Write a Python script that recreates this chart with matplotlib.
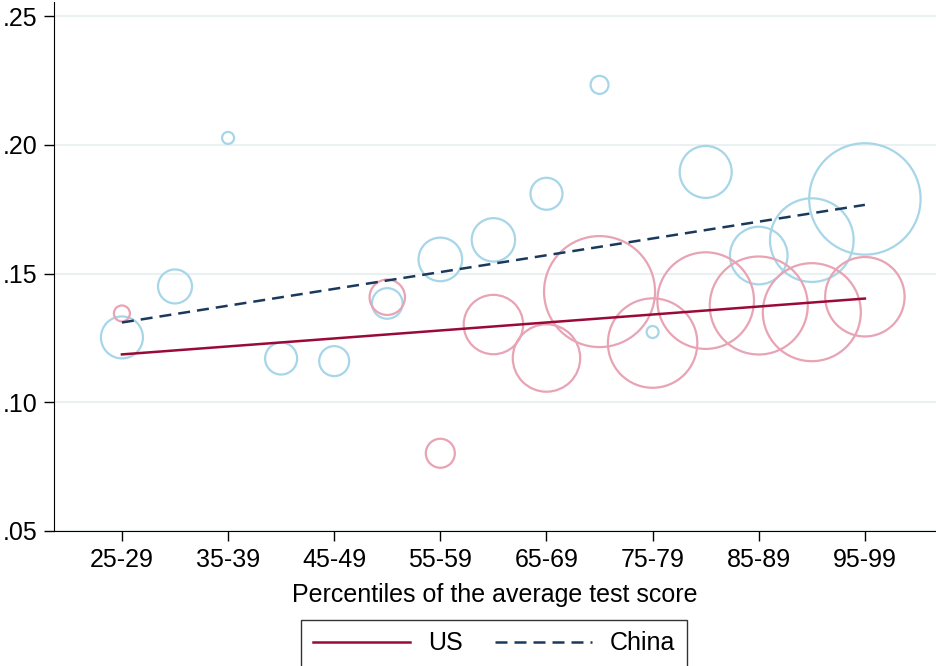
import numpy as np
import matplotlib.pyplot as plt

plt.rcParams['font.family'] = ['Liberation Sans', 'DejaVu Sans']

# percentile groups (25-29 ... 95-99)
groups = ['25-29', '30-34', '35-39', '40-44', '45-49', '50-54', '55-59', '60-64',
          '65-69', '70-74', '75-79', '80-84', '85-89', '90-94', '95-99']
tick_labels = groups[::2]

# China bubbles: value and bubble radius (px)
china_idx = [0, 1, 2, 3, 4, 5, 6, 7, 8, 9, 10, 11, 12, 13, 14]
china_val = [0.1252, 0.1450, 0.2027, 0.1170, 0.1160, 0.1384, 0.1555, 0.1631,
             0.1810, 0.2233, 0.1273, 0.1895, 0.1570, 0.1630, 0.1790]
china_rad = [21, 17, 6, 16, 15, 15.3, 21.8, 21.7, 16, 9, 6, 26, 28.8, 41.8, 55.7]

# US bubbles
us_idx = [0, 5, 6, 7, 8, 9, 10, 11, 12, 13, 14]
us_val = [0.1345, 0.1408, 0.0802, 0.1302, 0.1172, 0.1430, 0.1230, 0.1395,
          0.1376, 0.1350, 0.1410]
us_rad = [8, 17.7, 14.5, 29.7, 33.7, 55.5, 44.7, 48.3, 49, 49, 39.7]

# fitted lines (value at first and last group)
us_fit = [0.1186, 0.1403]
china_fit = [0.1310, 0.1767]

dpi = 100
fig = plt.figure(figsize=(9.36, 6.66), dpi=dpi)
ax = fig.add_axes([54 / 936, 1 - 531 / 666, 1 - 54 / 936, (531 - 2) / 666])

px2pt = 72 / dpi
ax.scatter(china_idx, china_val, s=(2 * np.array(china_rad) * px2pt) ** 2,
           facecolors='none', edgecolors='#a6d6e8', linewidths=1.6, zorder=2)
ax.scatter(us_idx, us_val, s=(2 * np.array(us_rad) * px2pt) ** 2,
           facecolors='none', edgecolors='#e8a3b4', linewidths=1.6, zorder=2)

ends = [0, len(groups) - 1]
ax.plot(ends, us_fit, color='#9a0a38', lw=1.8, label='US', zorder=3)
ax.plot(ends, china_fit, color='#1a3a5c', lw=1.8, ls=(0, (4.8, 2.8)), label='China', zorder=3)

ax.set_xlim(-1.28, 15.34)
ax.set_ylim(0.05, 0.2555)
ax.set_xticks(range(0, len(groups), 2))
ax.set_xticklabels(tick_labels, fontsize=18)
ax.set_yticks([0.05, 0.10, 0.15, 0.20, 0.25])
ax.set_yticklabels(['.05', '.10', '.15', '.20', '.25'], fontsize=18)
ax.tick_params(length=7, width=1, direction='out', pad=5)
ax.grid(axis='y', color='#eaf1f3', lw=1.5, zorder=0)
ax.set_axisbelow(True)
for s in ['top', 'right']:
    ax.spines[s].set_visible(False)
ax.set_xlabel('Percentiles of the average test score', fontsize=18, labelpad=8)

leg = fig.legend(loc='upper center', bbox_to_anchor=(494 / 936, 1 - 620 / 666),
                 ncol=2, fontsize=18, handlelength=3.9, handletextpad=0.7,
                 columnspacing=1.3, fancybox=False, edgecolor='black',
                 borderpad=0.45, borderaxespad=0)
leg.get_frame().set_linewidth(1)

fig.savefig('out.png', dpi=dpi)
